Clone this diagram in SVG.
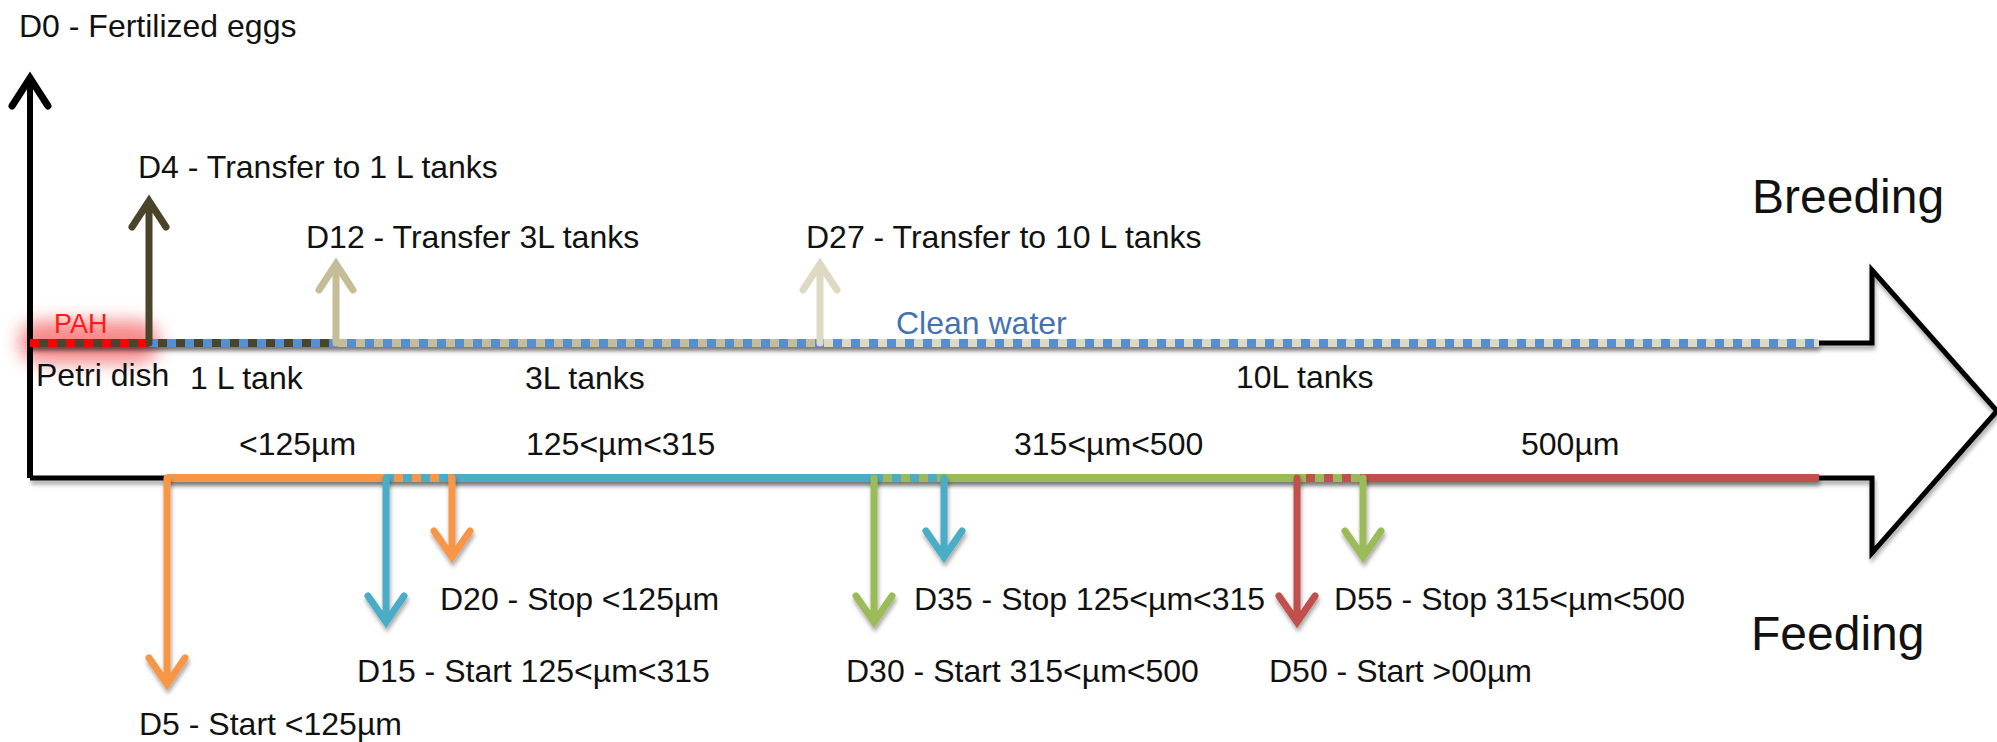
<svg xmlns="http://www.w3.org/2000/svg" width="1997" height="742" viewBox="0 0 1997 742">
<defs>
<filter id="sh" filterUnits="userSpaceOnUse" x="0" y="0" width="1997" height="742">
<feDropShadow dx="1" dy="4" stdDeviation="2" flood-color="#000" flood-opacity="0.35"/>
</filter>
<filter id="glow" filterUnits="userSpaceOnUse" x="0" y="270" width="280" height="150">
<feGaussianBlur stdDeviation="9"/>
</filter>
</defs>
<style>
text{font-family:"Liberation Sans",Arial,sans-serif;font-size:32px;fill:#111}
.big{font-size:48px}
.ln{fill:none;stroke-width:8}
.dash{fill:none;stroke-width:8;stroke-dasharray:9 9}
.arr{fill:none;stroke-width:7;stroke-linecap:round;stroke-linejoin:miter}
.org{stroke:#F79646}.blu{stroke:#4BACC6}.grn{stroke:#9BBB59}.red{stroke:#C0504D}
.dk{stroke:#4A452A}.tan{stroke:#C4BD97}.lt{stroke:#DDD9C3}.wb{stroke:#558ED5}
</style>
<rect width="1997" height="742" fill="#fff"/>

<!-- glow around PAH stage -->
<line x1="40" y1="342" x2="138" y2="342" stroke="#f03a3a" stroke-width="42" stroke-linecap="round" opacity="0.6" filter="url(#glow)"/>

<g id="connectors">
<!-- big outline arrow -->
<path d="M30,343 L1872,343 L1872,270 L1997,411 L1872,553 L1872,478 L30,478" fill="none" stroke="#000" stroke-width="5" stroke-linejoin="miter" filter="url(#sh)"/>
<!-- vertical time axis D0 -->
<path d="M30,478 V80" stroke="#000" stroke-width="6" fill="none"/>
<path d="M12,106 L30,78 L48,106" class="arr" stroke="#000" stroke-width="6"/>

<!-- breeding line -->
<g filter="url(#sh)">
<line x1="30" y1="343" x2="149" y2="343" class="ln dk"/>
<line x1="149" y1="343" x2="336" y2="343" class="ln dk"/>
<line x1="336" y1="343" x2="820" y2="343" class="ln tan"/>
<line x1="820" y1="343" x2="1819" y2="343" class="ln lt"/>
</g>
<line x1="30" y1="343" x2="149" y2="343" class="dash" stroke="#FF0000"/>
<line x1="149" y1="343" x2="1819" y2="343" class="dash wb"/>

<!-- feeding line -->
<g filter="url(#sh)">
<line x1="167" y1="478" x2="452" y2="478" class="ln org"/>
<line x1="452" y1="478" x2="874" y2="478" class="ln blu"/>
<line x1="874" y1="478" x2="1297" y2="478" class="ln grn"/>
<line x1="1297" y1="478" x2="1819" y2="478" class="ln red"/>
</g>
<line x1="385" y1="478" x2="452" y2="478" class="dash blu"/>
<line x1="874" y1="478" x2="944" y2="478" class="dash blu"/>
<line x1="1297" y1="478" x2="1363" y2="478" class="dash grn"/>

<!-- up arrows (breeding) -->
<g id="a-d4"><path d="M149,343 V204 M132,227 L149,201 L166,227" class="arr dk"/></g>
<g id="a-d12"><path d="M336,343 V267 M319,290 L336,264 L353,290" class="arr tan"/></g>
<g id="a-d27"><path d="M820,343 V267 M803,290 L820,264 L837,290" class="arr lt"/></g>

<!-- down arrows (feeding) -->
<g filter="url(#sh)">
<g id="a-d5"><path d="M167,478 V681 M149,658 L167,684 L185,658" class="arr org"/></g>
<g id="a-d15"><path d="M386,478 V619 M368,596 L386,622 L404,596" class="arr blu"/></g>
<g id="a-d20"><path d="M452,478 V554 M434,531 L452,557 L470,531" class="arr org"/></g>
<g id="a-d30"><path d="M874,478 V619 M856,596 L874,622 L892,596" class="arr grn"/></g>
<g id="a-d35"><path d="M944,478 V554 M926,531 L944,557 L962,531" class="arr blu"/></g>
<g id="a-d50"><path d="M1297,478 V619 M1279,596 L1297,622 L1315,596" class="arr red"/></g>
<g id="a-d55"><path d="M1363,478 V554 M1345,531 L1363,557 L1381,531" class="arr grn"/></g>
</g>
</g>

<g id="n-d0"><text x="19" y="37">D0 - Fertilized eggs</text></g>
<g id="n-d4"><text x="138" y="178">D4 - Transfer to 1 L tanks</text></g>
<g id="n-d12"><text x="306" y="248">D12 - Transfer 3L tanks</text></g>
<g id="n-d27"><text x="806" y="248">D27 - Transfer to 10 L tanks</text></g>
<g id="n-pah"><text x="54" y="333" style="fill:#FF1A1A;font-size:27px">PAH</text></g>
<g id="n-clean"><text x="896" y="334" style="fill:#4472B0">Clean water</text></g>
<g id="n-petri"><text x="36" y="386">Petri dish</text></g>
<g id="n-1l"><text x="190" y="389">1 L tank</text></g>
<g id="n-3l"><text x="525" y="389">3L tanks</text></g>
<g id="n-10l"><text x="1236" y="388">10L tanks</text></g>
<g id="n-breeding"><text x="1752" y="213" class="big">Breeding</text></g>
<g id="n-feeding"><text x="1751" y="650" class="big">Feeding</text></g>
<g id="n-s1"><text x="239" y="455">&lt;125µm</text></g>
<g id="n-s2"><text x="526" y="455">125&lt;µm&lt;315</text></g>
<g id="n-s3"><text x="1014" y="455">315&lt;µm&lt;500</text></g>
<g id="n-s4"><text x="1521" y="455">500µm</text></g>
<g id="n-d20"><text x="440" y="610">D20 - Stop &lt;125µm</text></g>
<g id="n-d15"><text x="357" y="682">D15 - Start 125&lt;µm&lt;315</text></g>
<g id="n-d5"><text x="139" y="735">D5 - Start &lt;125µm</text></g>
<g id="n-d30"><text x="846" y="682">D30 - Start 315&lt;µm&lt;500</text></g>
<g id="n-d35"><text x="914" y="610">D35 - Stop 125&lt;µm&lt;315</text></g>
<g id="n-d50"><text x="1269" y="682">D50 - Start &gt;00µm</text></g>
<g id="n-d55"><text x="1334" y="610">D55 - Stop 315&lt;µm&lt;500</text></g>
</svg>
